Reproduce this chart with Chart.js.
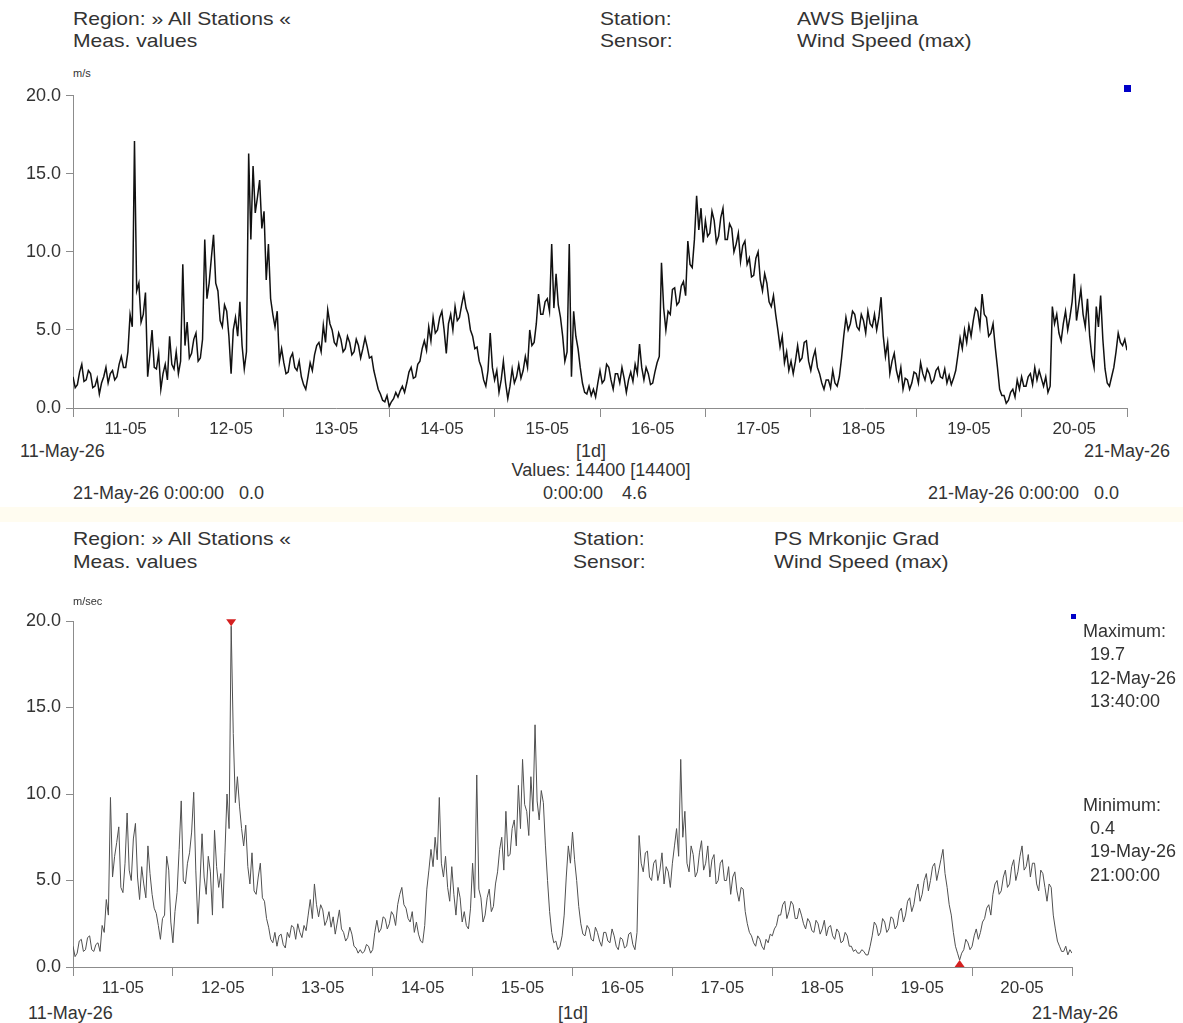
<!DOCTYPE html>
<html><head><meta charset="utf-8">
<script src="https://cdn.jsdelivr.net/npm/chart.js@4.4.1/dist/chart.umd.min.js"></script>
<style>
html,body{margin:0;padding:0;background:#fff;}
body{width:1183px;height:1023px;position:relative;overflow:hidden;font-family:"Liberation Sans",Arial,sans-serif;color:#333;}
.t{position:absolute;font-size:18px;line-height:20px;white-space:pre;}
.h{position:absolute;font-size:19px;line-height:20px;white-space:pre;transform:scaleX(1.11);transform-origin:0 50%;}
.s{position:absolute;font-size:11px;line-height:12px;white-space:pre;}
.c{transform:translateX(-50%);}
canvas{position:absolute;left:0;}
.sq{position:absolute;background:#0000c8;}
.band{position:absolute;left:0;width:1183px;background:#fffcf0;}
</style></head>
<body>
<div class="band" style="top:507px;height:15px"></div>
<canvas id="c1" width="1183" height="360" style="top:80px"></canvas>
<canvas id="c2" width="1183" height="399" style="top:600px"></canvas>

<div class="h" style="left:73px;top:9px">Region: » All Stations «</div>
<div class="h" style="left:73px;top:31px">Meas. values</div>
<div class="h" style="left:600px;top:9px">Station:</div>
<div class="h" style="left:600px;top:31px">Sensor:</div>
<div class="h" style="left:797px;top:9px">AWS Bjeljina</div>
<div class="h" style="left:797px;top:31px">Wind Speed (max)</div>
<div class="s" style="left:73px;top:67px">m/s</div>
<div class="sq" style="left:1124px;top:85px;width:7px;height:7px"></div>
<div class="t" style="left:20px;top:441px">11-May-26</div>
<div class="t c" style="left:591px;top:441px">[1d]</div>
<div class="t" style="right:13px;top:441px">21-May-26</div>
<div class="t c" style="left:601px;top:460px">Values: 14400 [14400]</div>
<div class="t" style="left:543px;top:483px">0:00:00</div>
<div class="t" style="left:622px;top:483px">4.6</div>
<div class="t" style="left:73px;top:483px">21-May-26 0:00:00   0.0</div>
<div class="t" style="left:928px;top:483px">21-May-26 0:00:00   0.0</div>

<div class="h" style="left:73px;top:529px">Region: » All Stations «</div>
<div class="h" style="left:73px;top:552px">Meas. values</div>
<div class="h" style="left:573px;top:529px">Station:</div>
<div class="h" style="left:573px;top:552px">Sensor:</div>
<div class="h" style="left:774px;top:529px">PS Mrkonjic Grad</div>
<div class="h" style="left:774px;top:552px">Wind Speed (max)</div>
<div class="s" style="left:73px;top:595px">m/sec</div>
<div class="sq" style="left:1071px;top:614px;width:5px;height:5px"></div>
<div class="t" style="left:1083px;top:621px">Maximum:</div>
<div class="t" style="left:1090px;top:644px">19.7</div>
<div class="t" style="left:1090px;top:668px">12-May-26</div>
<div class="t" style="left:1090px;top:691px">13:40:00</div>
<div class="t" style="left:1083px;top:795px">Minimum:</div>
<div class="t" style="left:1090px;top:818px">0.4</div>
<div class="t" style="left:1090px;top:841px">19-May-26</div>
<div class="t" style="left:1090px;top:865px">21:00:00</div>
<div class="t" style="left:28px;top:1003px">11-May-26</div>
<div class="t c" style="left:573px;top:1003px">[1d]</div>
<div class="t" style="right:65px;top:1003px">21-May-26</div>

<script>
const dayLabels = ['11-05','12-05','13-05','14-05','15-05','16-05','17-05','18-05','19-05','20-05'];
const yTickLabels = ['0.0','5.0','10.0','15.0','20.0'];

// AWS Bjeljina, Wind Speed (max), m/s, half-hourly readings 11-May 0:00 .. 21-May 0:00 (one row per day)
const bjeljinaValues = [
 2.0,1.3,1.5,2.3,2.8,1.7,1.8,2.4,2.2,1.3,1.4,1.9,0.9,1.6,2.0,2.6,1.6,2.2,2.4,1.8,2.0,2.8,3.3,2.6,2.6,3.6,6.0,5.2,17.1,7.5,8.0,5.5,6.0,7.4,2.0,3.4,5.0,2.6,2.5,3.5,1.2,2.2,2.8,1.8,4.6,2.8,2.5,3.6,
 2.2,3.0,9.2,4.0,5.5,3.2,3.5,4.4,4.8,3.0,3.2,4.4,10.8,7.0,8.0,9.6,11.1,8.0,7.5,5.6,5.2,6.6,6.2,4.6,2.2,5.0,5.8,4.6,6.8,4.0,2.5,3.6,16.3,10.8,15.5,12.5,13.5,14.6,11.5,12.6,8.2,10.5,7.0,6.0,5.2,6.2,3.0,3.8,
 2.9,2.2,2.3,3.2,3.5,2.6,2.4,3.0,2.0,1.5,1.2,2.0,2.9,2.4,3.4,4.0,4.2,3.6,5.3,4.2,6.3,5.4,5.0,4.2,4.0,4.8,4.4,3.6,3.8,4.6,4.2,3.4,3.6,4.4,4.0,3.2,3.8,4.5,3.9,3.2,3.3,2.4,1.8,1.2,0.9,0.5,0.4,0.8,
 0.1,0.4,0.6,1.0,0.7,1.1,1.4,1.0,1.6,2.3,2.6,1.9,2.0,2.8,3.0,3.8,4.3,3.7,5.2,4.3,5.8,4.8,5.0,5.8,6.2,5.0,3.5,5.4,6.0,5.0,6.5,5.6,5.8,6.6,7.3,6.4,6.0,5.0,4.6,3.8,3.9,3.0,2.6,1.8,1.4,2.4,4.8,2.6,
 1.8,2.4,1.0,1.8,3.0,1.6,0.6,1.4,2.5,1.6,2.0,2.8,1.9,2.4,3.3,2.6,5.0,4.0,4.2,5.4,7.3,6.0,6.0,6.8,7.0,6.2,10.5,6.4,8.6,6.6,5.8,4.6,3.0,3.6,10.5,2.0,6.2,4.6,3.8,2.6,1.6,1.0,0.9,1.4,0.8,1.2,0.7,1.6,
 2.4,1.6,1.8,2.8,2.6,1.8,1.2,2.2,2.2,1.6,2.6,1.9,1.0,1.8,2.3,1.7,2.8,2.2,4.1,2.6,1.8,2.6,2.2,1.5,1.6,2.3,2.9,3.3,9.3,6.4,5.0,6.2,6.0,7.6,7.7,6.6,6.8,7.8,8.1,7.2,10.7,9.2,9.0,10.8,13.6,11.4,12.8,10.6,
 12.0,11.0,11.2,12.6,12.0,10.6,11.0,12.2,12.8,10.8,10.8,11.8,11.5,10.0,10.5,11.2,9.4,10.4,10.7,9.2,9.6,8.4,8.5,9.6,10.0,8.2,7.5,8.6,8.0,6.8,6.5,7.2,6.0,5.0,3.9,4.6,2.9,3.6,2.4,3.0,2.2,3.0,4.0,3.0,3.2,4.2,4.3,3.0,
 2.4,3.2,3.7,2.6,2.2,1.6,1.2,1.8,1.8,1.3,2.4,1.6,1.4,2.0,3.2,4.6,5.8,5.0,5.4,6.2,6.0,5.2,5.0,6.0,5.6,4.8,6.2,5.4,5.2,6.0,5.0,5.8,7.1,4.6,3.3,4.2,2.2,3.0,3.5,2.4,1.8,2.6,1.2,1.9,1.8,1.2,1.6,2.3,
 2.2,1.6,2.9,2.2,1.8,2.5,2.2,1.6,1.8,2.4,2.6,2.0,1.9,2.5,1.6,2.1,1.5,1.9,2.4,3.4,4.5,3.8,5.0,4.2,5.3,4.6,5.6,6.4,6.2,5.2,7.3,6.0,5.8,4.6,4.8,5.4,3.9,2.6,1.2,0.8,0.8,0.3,0.5,1.0,1.2,0.7,1.8,1.2,
 2.0,1.4,1.4,2.0,2.2,1.5,2.6,1.8,2.4,1.9,1.4,2.0,1.0,1.4,6.5,5.4,6.0,4.8,4.3,5.4,6.2,5.0,5.8,6.8,8.6,5.6,6.6,7.6,6.0,5.2,7.0,4.6,3.3,2.6,6.5,5.2,7.2,4.4,2.5,1.6,1.4,2.0,2.6,3.6,4.8,4.2,4.0,4.4,
 3.7
];

// PS Mrkonjic Grad, Wind Speed (max), m/sec, half-hourly readings 11-May 0:00 .. 21-May 0:00 (one row per day)
const mrkonjicValues = [
 1.2,0.6,0.8,1.5,1.6,0.9,1.0,1.7,1.8,1.0,0.9,1.3,1.4,0.9,2.4,2.0,3.9,3.0,9.8,5.2,6.4,7.2,8.1,4.6,4.3,6.0,8.9,5.6,5.0,7.4,8.3,5.2,3.9,5.8,4.8,4.0,7.0,5.4,4.2,3.4,3.1,2.4,1.6,2.8,3.0,6.4,5.6,2.6,
 1.4,3.2,4.3,6.8,9.6,5.0,4.8,6.0,6.6,7.8,10.1,5.6,2.5,4.8,7.7,5.2,4.2,6.4,5.5,3.0,7.9,5.8,4.6,5.4,3.4,6.6,10.0,8.0,19.7,13.5,9.5,11.0,9.3,8.0,7.0,8.2,5.8,4.8,6.6,4.4,4.2,5.2,6.0,4.0,3.8,2.8,2.3,1.6,
 1.4,2.0,1.2,1.8,1.9,1.3,1.1,2.0,1.7,2.4,2.3,1.6,2.5,2.0,1.7,2.4,2.1,3.0,3.9,2.8,4.8,3.6,2.9,3.6,3.3,2.4,2.7,3.2,2.3,2.9,1.9,2.6,3.3,2.2,2.0,1.5,1.7,2.3,1.9,1.2,1.1,0.8,1.0,0.8,0.9,1.3,1.2,0.8,
 1.0,2.0,2.7,2.0,2.2,2.9,2.8,2.2,2.5,3.2,3.0,2.4,3.6,4.2,4.6,3.6,3.4,2.8,2.6,3.2,2.0,2.6,1.9,1.5,1.4,2.4,4.5,5.6,6.8,5.8,7.5,6.2,9.8,6.0,5.2,6.4,4.6,3.8,5.8,4.2,3.0,4.6,4.0,2.6,3.2,2.4,2.2,3.4,
 6.0,4.0,11.1,4.5,4.0,2.6,3.0,4.0,4.5,3.2,3.5,4.8,5.5,6.8,7.5,5.6,9.0,6.4,6.5,8.0,8.5,7.0,10.5,8.0,12.0,9.4,9.0,7.6,11.0,9.0,14.0,9.6,8.5,10.2,9.5,7.0,5.0,3.2,2.0,1.4,1.5,1.0,1.2,1.8,3.0,5.2,7.0,6.0,
 7.8,6.2,5.0,3.5,2.5,1.9,1.8,2.4,2.2,1.6,1.5,2.3,2.0,1.5,1.2,2.0,2.0,1.5,1.4,2.2,1.8,1.2,1.0,1.7,1.6,1.1,1.2,1.9,2.0,1.3,1.0,2.0,7.6,6.0,5.5,6.6,6.7,5.2,5.0,6.0,6.2,5.0,5.6,6.6,4.8,5.8,5.5,4.6,
 6.0,7.0,8.0,6.4,12.0,7.5,9.0,6.0,5.5,7.0,6.5,5.2,5.5,6.6,7.3,5.6,6.0,7.0,5.2,6.2,6.5,4.8,5.0,6.0,6.2,5.0,5.0,5.8,4.2,5.2,5.5,4.4,3.8,4.6,4.5,3.2,2.5,2.0,1.8,1.4,1.2,1.8,1.6,1.2,1.0,1.6,1.4,1.9,
 1.8,2.2,2.4,3.0,3.0,3.6,3.8,2.8,3.2,3.8,3.6,2.8,2.8,3.4,3.0,2.5,2.2,2.8,2.6,2.1,2.0,2.7,2.5,1.9,2.2,2.7,1.8,2.3,2.4,1.8,1.6,2.2,2.0,1.4,1.5,2.0,1.8,1.2,1.2,0.9,1.0,0.8,0.8,1.0,0.9,0.7,0.7,1.2,
 1.8,2.6,2.4,1.8,2.0,2.8,2.6,2.0,2.2,2.9,2.8,2.2,2.4,3.2,3.4,2.6,3.0,3.8,4.0,3.2,3.6,4.4,4.8,3.8,4.2,5.0,5.4,4.4,5.0,5.8,6.0,5.0,5.6,6.2,6.8,5.4,4.6,3.6,3.0,2.0,1.2,0.8,0.4,0.8,1.0,1.6,1.4,1.0,
 1.2,1.8,2.2,1.6,2.0,2.6,2.8,3.4,3.6,3.0,4.2,4.8,5.0,4.2,4.4,5.2,5.6,4.6,4.8,5.8,6.2,5.0,5.5,6.4,7.0,5.6,5.8,6.5,5.2,6.0,6.0,4.8,4.4,5.6,5.4,4.6,3.8,4.8,4.6,3.0,2.2,1.5,1.2,0.9,0.9,1.2,0.7,1.0,
 0.8
];

const AXIS = '#8c8c8c';
const TXT = '#333';
const TICKFONT = {family:'"Liberation Sans", Arial, sans-serif', size:17};
const YFONT = {family:'"Liberation Sans", Arial, sans-serif', size:18};

const markerPlugin = {
  id:'minMaxMarkers',
  afterDatasetsDraw(chart, args, opts){
    if(!opts || !opts.values) return;
    const v = opts.values;
    const mx = Math.max(...v), mn = Math.min(...v);
    const iMax = v.indexOf(mx), iMin = v.indexOf(mn);
    const xs = chart.scales.x, ys = chart.scales.y, c = chart.ctx;
    c.save();
    c.fillStyle = '#d42020';
    let px = xs.getPixelForValue(iMax/2), py = ys.getPixelForValue(mx);
    c.beginPath(); c.moveTo(px, py); c.lineTo(px-5, py-7); c.lineTo(px+5, py-7); c.closePath(); c.fill();
    px = xs.getPixelForValue(iMin/2); py = ys.getPixelForValue(mn);
    c.beginPath(); c.moveTo(px, py); c.lineTo(px-5, py+7); c.lineTo(px+5, py+7); c.closePath(); c.fill();
    c.restore();
  }
};

function makeChart(id, values, lineColor, lineWidth, padTop, padRight, markers){
  return new Chart(document.getElementById(id), {
    type:'line',
    data:{datasets:[{
      data: values.map((v,i)=>({x:i/2, y:v})),
      borderColor: lineColor, borderWidth: lineWidth, pointRadius:0, tension:0, fill:false
    }]},
    plugins: markers ? [markerPlugin] : [],
    options:{
      responsive:false, animation:false, devicePixelRatio:1,
      layout:{padding:{top:padTop, right:padRight, left:0, bottom:0}},
      plugins:{legend:{display:false}, tooltip:{enabled:false}, minMaxMarkers: markers ? {values} : {}},
      scales:{
        x:{type:'linear', min:0, max:240,
          afterFit:s=>{s.height=32;},
          border:{color:AXIS, width:1},
          grid:{drawOnChartArea:false, drawTicks:true, tickLength:9, tickWidth:1,
                tickColor:c=> (c.tick && c.tick.value%24===0) ? AXIS : 'rgba(0,0,0,0)'},
          ticks:{stepSize:12, autoSkip:false, maxRotation:0, padding:2, color:TXT, font:TICKFONT,
                 callback:v=> (v%24===12) ? dayLabels[(v-12)/24] : ''}
        },
        y:{min:0, max:20,
          afterFit:s=>{s.width=73;},
          border:{color:AXIS, width:1},
          grid:{drawOnChartArea:false, drawTicks:true, tickLength:7, tickColor:AXIS},
          ticks:{stepSize:5, padding:5, color:TXT, font:YFONT,
                 callback:v=> yTickLabels[v/5]}
        }
      }
    }
  });
}

makeChart('c1', bjeljinaValues, '#111', 1.5, 13, 56, false);
makeChart('c2', mrkonjicValues, '#505050', 1, 21, 111, true);
</script>
</body></html>
